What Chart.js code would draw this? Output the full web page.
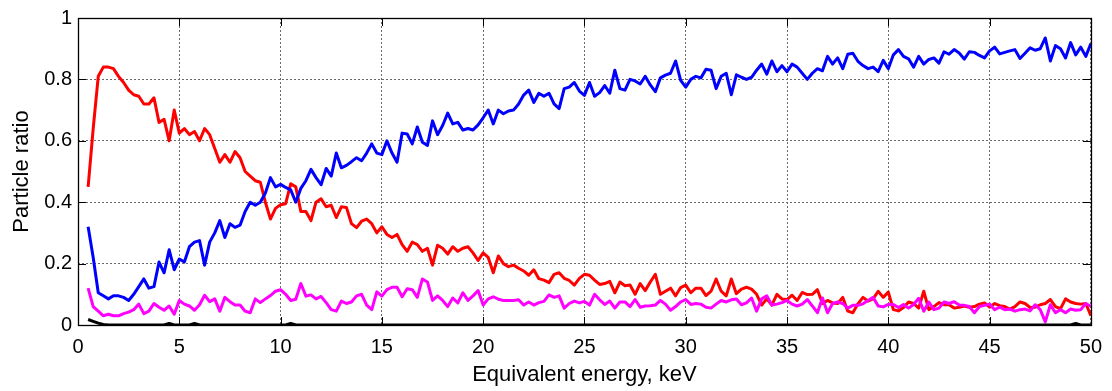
<!DOCTYPE html>
<html>
<head>
<meta charset="utf-8">
<script src="https://cdn.jsdelivr.net/npm/chart.js@4.4.1/dist/chart.umd.min.js"></script>
<style>
  html, body { margin: 0; padding: 0; background: #fff; }
  #wrap { width: 1112px; height: 391px; }
</style>
</head>
<body>
<div id="wrap"><canvas id="ratioChart" width="1112" height="391"></canvas></div>
<script>
// energy grid, keV
const energy = [
  0.5,0.75,
  1,1.25,1.5,1.75, 2,2.25,2.5,2.75, 3,3.25,3.5,3.75, 4,4.25,4.5,4.75, 5,5.25,5.5,5.75,
  6,6.25,6.5,6.75, 7,7.25,7.5,7.75, 8,8.25,8.5,8.75, 9,9.25,9.5,9.75, 10,10.25,10.5,10.75,
  11,11.25,11.5,11.75, 12,12.25,12.5,12.75, 13,13.25,13.5,13.75, 14,14.25,14.5,14.75, 15,15.25,15.5,15.75,
  16,16.25,16.5,16.75, 17,17.25,17.5,17.75, 18,18.25,18.5,18.75, 19,19.25,19.5,19.75, 20,20.25,20.5,20.75,
  21,21.25,21.5,21.75, 22,22.25,22.5,22.75, 23,23.25,23.5,23.75, 24,24.25,24.5,24.75, 25,25.25,25.5,25.75,
  26,26.25,26.5,26.75, 27,27.25,27.5,27.75, 28,28.25,28.5,28.75, 29,29.25,29.5,29.75, 30,30.25,30.5,30.75,
  31,31.25,31.5,31.75, 32,32.25,32.5,32.75, 33,33.25,33.5,33.75, 34,34.25,34.5,34.75, 35,35.25,35.5,35.75,
  36,36.25,36.5,36.75, 37,37.25,37.5,37.75, 38,38.25,38.5,38.75, 39,39.25,39.5,39.75, 40,40.25,40.5,40.75,
  41,41.25,41.5,41.75, 42,42.25,42.5,42.75, 43,43.25,43.5,43.75, 44,44.25,44.5,44.75, 45,45.25,45.5,45.75,
  46,46.25,46.5,46.75, 47,47.25,47.5,47.75, 48,48.25,48.5,48.75, 49,49.25,49.5,49.75,
  50
];

const redRatio = [
  0.45,0.64,0.81,0.84,0.84,0.835,0.81,0.79,0.765,0.75,0.745,0.72,0.72,0.74,0.66,0.67,0.60,0.70,0.625,0.64,0.62,0.63,0.60,0.64,0.62,0.575,0.53,0.555,0.53,0.565,0.545,0.50,
  0.485,0.47,0.465,0.40,0.345,0.38,0.392,0.395,0.46,0.45,0.37,0.37,0.34,0.40,0.411,0.385,0.39,0.35,0.385,0.383,0.33,0.317,0.338,0.345,0.33,0.30,0.32,0.295,0.285,0.295,0.262,0.24,0.27,0.262,
  0.24,0.25,0.195,0.26,0.25,0.231,0.255,0.24,0.25,0.255,0.235,0.21,0.235,0.22,0.17,0.225,0.20,0.19,0.195,0.185,0.176,0.162,0.18,0.151,0.146,0.138,0.165,0.17,0.152,0.145,0.13,0.152,0.165,
  0.162,0.146,0.132,0.135,0.142,0.105,0.14,0.128,0.13,0.10,0.135,0.112,0.14,0.165,0.10,0.11,0.12,0.095,0.122,0.13,0.105,0.12,0.12,0.096,0.11,0.15,0.11,0.095,0.15,0.102,0.117,0.123,0.117,0.10,
  0.065,0.085,0.065,0.10,0.085,0.083,0.097,0.08,0.106,0.099,0.10,0.115,0.07,0.08,0.072,0.07,0.09,0.045,0.04,0.069,0.09,0.078,0.085,0.11,0.09,0.107,0.05,0.046,0.057,0.075,0.07,0.055,0.11,
  0.05,0.06,0.073,0.066,0.066,0.055,0.058,0.062,0.058,0.06,0.068,0.072,0.058,0.07,0.063,0.06,0.052,0.06,0.075,0.07,0.057,0.058,0.066,0.07,0.083,0.06,0.053,0.085,0.075,0.07,0.068,0.07,0.03
];

const blueRatio = [
  0.32,0.22,0.105,0.095,0.085,0.095,0.095,0.09,0.08,0.10,0.125,0.15,0.12,0.125,0.205,0.17,0.245,0.18,0.215,0.205,0.255,0.27,0.275,0.195,0.27,0.30,0.34,0.285,0.33,0.318,0.325,0.37,
  0.40,0.39,0.40,0.43,0.48,0.45,0.458,0.448,0.44,0.40,0.445,0.47,0.507,0.48,0.457,0.51,0.485,0.56,0.512,0.52,0.532,0.545,0.535,0.56,0.59,0.56,0.555,0.60,0.56,0.53,0.625,0.622,0.59,0.645,
  0.595,0.585,0.665,0.62,0.65,0.69,0.655,0.66,0.635,0.64,0.635,0.652,0.675,0.70,0.655,0.70,0.688,0.697,0.70,0.72,0.749,0.765,0.725,0.755,0.745,0.755,0.72,0.705,0.77,0.775,0.79,0.762,0.748,
  0.79,0.745,0.757,0.78,0.755,0.83,0.77,0.765,0.80,0.795,0.785,0.81,0.782,0.76,0.805,0.814,0.82,0.86,0.797,0.775,0.80,0.81,0.805,0.833,0.83,0.77,0.81,0.82,0.75,0.815,0.807,0.80,0.807,0.83,
  0.85,0.817,0.86,0.825,0.845,0.825,0.85,0.84,0.82,0.80,0.82,0.835,0.828,0.875,0.85,0.87,0.835,0.882,0.885,0.859,0.845,0.835,0.84,0.825,0.862,0.835,0.88,0.897,0.875,0.867,0.84,0.875,0.85,
  0.865,0.87,0.853,0.89,0.882,0.897,0.886,0.866,0.89,0.888,0.878,0.87,0.893,0.905,0.883,0.888,0.893,0.897,0.868,0.885,0.903,0.895,0.90,0.935,0.86,0.91,0.90,0.87,0.92,0.88,0.905,0.875,0.917
];

const magentaRatio = [
  0.12,0.06,0.045,0.03,0.035,0.03,0.03,0.037,0.042,0.05,0.068,0.037,0.045,0.07,0.058,0.048,0.062,0.035,0.08,0.068,0.062,0.048,0.066,0.097,0.076,0.085,0.045,0.09,0.076,0.065,0.065,0.045,
  0.04,0.085,0.073,0.085,0.096,0.11,0.115,0.10,0.08,0.084,0.135,0.094,0.098,0.085,0.093,0.073,0.05,0.045,0.078,0.07,0.075,0.095,0.10,0.065,0.05,0.108,0.094,0.115,0.123,0.123,0.092,0.118,0.115,0.09,
  0.15,0.14,0.08,0.095,0.08,0.06,0.088,0.072,0.105,0.08,0.095,0.112,0.065,0.085,0.092,0.084,0.08,0.08,0.08,0.082,0.065,0.075,0.065,0.073,0.077,0.098,0.09,0.095,0.055,0.07,0.078,0.072,0.077,
  0.065,0.10,0.082,0.067,0.078,0.055,0.075,0.075,0.06,0.083,0.058,0.062,0.063,0.065,0.08,0.068,0.048,0.06,0.075,0.083,0.067,0.07,0.068,0.058,0.055,0.068,0.08,0.075,0.082,0.085,0.066,0.072,0.088,0.045,
  0.085,0.095,0.065,0.068,0.073,0.08,0.068,0.062,0.068,0.083,0.062,0.04,0.088,0.04,0.07,0.075,0.07,0.055,0.064,0.064,0.069,0.08,0.09,0.062,0.059,0.067,0.067,0.057,0.067,0.055,0.067,0.087,0.045,
  0.075,0.05,0.055,0.075,0.07,0.076,0.065,0.064,0.06,0.04,0.06,0.064,0.068,0.05,0.058,0.05,0.052,0.045,0.05,0.052,0.046,0.066,0.05,0.01,0.066,0.04,0.05,0.04,0.052,0.048,0.05,0.07,0.061
];

const blackRatio = [
  0.018,0.012,0.006,0.002,0,0,0,0,0,0,0,0,0,0,0,0,0.005,0,0,0,0,0.005,0,0,0,0,0,0,0,0,0,0,
  0,0,0,0,0,0,0,0,0.005,0,0,0,0,0,0,0,0,0,0,0,0,0,0,0,0,0,0,0,0,0,0,0,0,0,
  0,0,0,0,0,0,0,0,0,0,0,0,0,0,0,0,0,0,0,0,0,0,0,0,0,0,0,0,0,0,0,0,0,
  0,0,0,0,0,0,0,0,0,0,0,0,0,0,0,0,0,0,0,0,0,0,0,0,0,0,0,0,0,0,0,0,0,0,
  0,0,0,0,0,0,0,0,0,0,0,0,0,0,0,0,0,0,0,0,0,0,0,0,0,0,0,0,0,0,0,0,0,
  0,0,0,0,0,0,0,0,0,0,0,0,0,0,0,0,0,0,0,0,0,0,0,0,0,0,0,0,0,0.005,0,0,0
];

const xTitle = 'Equivalent energy, keV';
const yTitle = 'Particle ratio';

const FONT = "'Liberation Sans', Arial, sans-serif";

const toPoints = (ys) => energy.map((e, i) => ({ x: e, y: ys[i] }));

// matlab style box + inward ticks
const boxPlugin = {
    id: 'box',
    afterDraw(chart) {
        const { ctx, chartArea: a, scales } = chart;
        const L = 8;
        ctx.save();
        ctx.strokeStyle = '#000';
        ctx.lineWidth = 1;
        ctx.beginPath();
        scales.x.ticks.forEach(t => {
            const px = Math.round(scales.x.getPixelForValue(t.value)) + 0.5;
            ctx.moveTo(px, a.bottom); ctx.lineTo(px, a.bottom - L);
            ctx.moveTo(px, a.top); ctx.lineTo(px, a.top + L);
        });
        scales.y.ticks.forEach(t => {
            const py = Math.round(scales.y.getPixelForValue(t.value)) + 0.5;
            ctx.moveTo(a.left, py); ctx.lineTo(a.left + L, py);
            ctx.moveTo(a.right, py); ctx.lineTo(a.right - L, py);
        });
        ctx.stroke();
        ctx.lineWidth = 1.3;
        ctx.strokeRect(Math.round(a.left) + 0.5, Math.round(a.top) + 0.5,
            Math.round(a.right - a.left), Math.round(a.bottom - a.top));
        ctx.restore();
    }
};

const line = (data, color) => ({
    data: toPoints(data),
    borderColor: color,
    backgroundColor: color,
    borderWidth: 3,
    pointRadius: 0,
    tension: 0,
    fill: false,
    borderJoinStyle: 'round'
});

new Chart(document.getElementById('ratioChart'), {
    type: 'line',
    data: {
        datasets: [
            line(blackRatio, '#000000'),
            line(magentaRatio, '#ff00ff'),
            line(blueRatio, '#0000ff'),
            line(redRatio, '#ff0000')
        ]
    },
    options: {
        responsive: false,
        animation: false,
        devicePixelRatio: 1,
        layout: { padding: { top: 13, right: 20, left: 0, bottom: 0 } },
        plugins: { legend: { display: false }, tooltip: { enabled: false } },
        scales: {
            x: {
                type: 'linear',
                min: 0, max: 50,
                afterFit: (s) => { s.height = 66; },
                ticks: { stepSize: 5, padding: 10, color: '#000', font: { family: FONT, size: 20 }, maxRotation: 0 },
                grid: { color: '#6a6a6a', lineWidth: 1, drawTicks: false },
                border: { display: false, dash: [2, 2] },
                title: { display: true, text: xTitle, color: '#000', font: { family: FONT, size: 22 }, padding: { top: 0, bottom: 3 } }
            },
            y: {
                min: 0, max: 1,
                afterFit: (s) => { s.width = 78; },
                ticks: { stepSize: 0.2, padding: 6, color: '#000', font: { family: FONT, size: 20 },
                         callback: (v) => String(+v.toFixed(1)) },
                grid: { color: '#6a6a6a', lineWidth: 1, drawTicks: false },
                border: { display: false, dash: [2, 2] },
                title: { display: true, text: yTitle, color: '#000', font: { family: FONT, size: 22 }, padding: { top: 9, bottom: 0 } }
            }
        }
    },
    plugins: [boxPlugin]
});
</script>
</body>
</html>
